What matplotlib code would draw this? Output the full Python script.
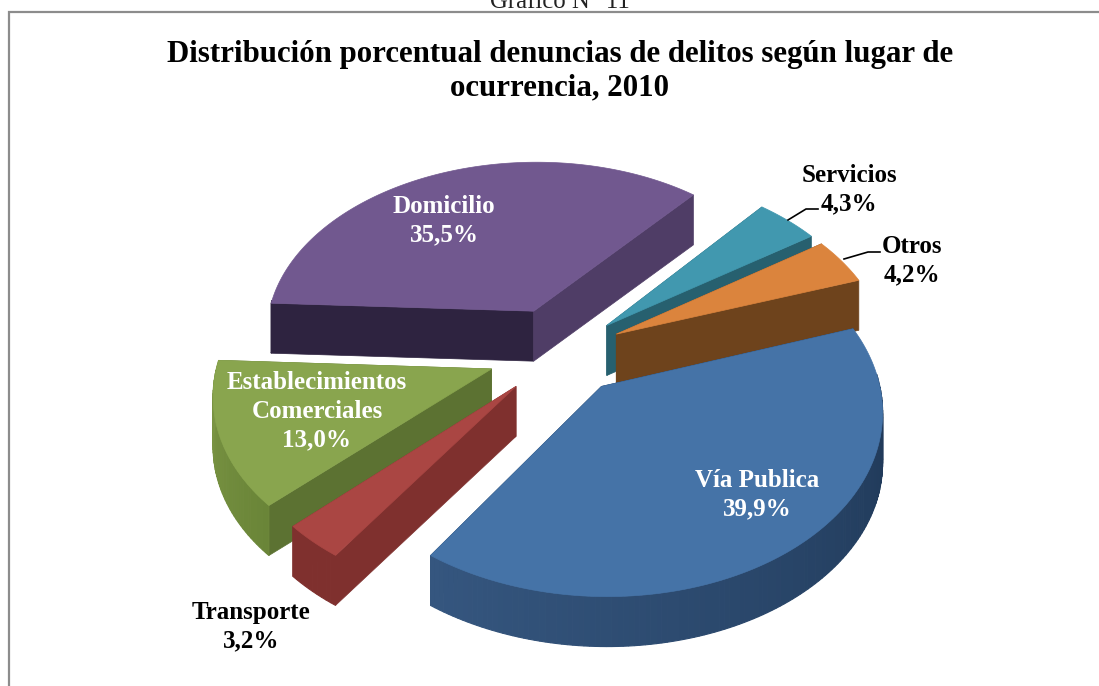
import numpy as np
import matplotlib
matplotlib.use("Agg")
import matplotlib.pyplot as plt
from matplotlib.patches import Polygon
from matplotlib.colors import to_rgb

categories = ["Vía Publica", "Transporte", "Establecimientos\nComerciales", "Domicilio", "Servicios", "Otros"]
values = [39.9, 3.2, 13.0, 35.5, 4.3, 4.2]
value_labels = ["39,9%", "3,2%", "13,0%", "35,5%", "4,3%", "4,2%"]
explode = [0.24, 0.25, 0.27, 0.26, 0.23, 0.23]
top_colors = ["#4573a7", "#aa4643", "#89a54e", "#71588f", "#4198af", "#db843d"]
rim_start = ["#35567f", "#7f302e", "#7d9745", "#2e2340", "#27606f", "#6e431c"]
rim_end = ["#1b3350", "#7f302e", "#6a8538", "#2e2340", "#27606f", "#6e431c"]
cut_start = ["#1b3350", "#7f302e", "#5c7232", "#2e2340", "#27606f", "#6e431c"]
cut_end = ["#1b3350", "#7f302e", "#5c7232", "#4f3d66", "#27606f", "#6e431c"]
label_colors = ["white", "black", "white", "white", "black", "black"]
label_xy = [(757, 495), (251, 627), (317, 411), (444, 221), (849, 190), (912, 261)]
draw_order = [3, 4, 5, 2, 1, 0]

START = 19.0
CX, CY = 561.0, 352.0
RX, RY = 272.0, 176.0
PERSP = 0.12
DEPTH = 50.0


def project(u, v, z=0.0):
    s = 1.0 / (1.0 + PERSP * v)
    return CX + RX * u * s, CY - RY * v * s + DEPTH * z


def mix(a, b, t):
    a, b = np.array(to_rgb(a)), np.array(to_rgb(b))
    return tuple(a + (b - a) * t)


fig = plt.figure(figsize=(10.99, 6.86), dpi=100)
ax = fig.add_axes([0, 0, 1, 1])
ax.set_xlim(0, 1099)
ax.set_ylim(686, 0)
ax.axis("off")

ax.plot([9, 9, 1099], [686, 12, 12], color="#8c8c8c", lw=1.6, solid_joinstyle="miter")

fr = np.array(values) / np.sum(values)
ends = START - 360 * np.cumsum(fr)
starts = np.r_[START, ends[:-1]]

for i in draw_order:
    a0, a1 = starts[i], ends[i]
    mid = np.radians((a0 + a1) / 2)
    ou, ov = explode[i] * np.cos(mid), explode[i] * np.sin(mid)
    ts = np.radians(np.linspace(a0, a1, max(6, int(abs(a1 - a0)))))
    u = ou + np.cos(ts)
    v = ov + np.sin(ts)
    n = len(ts)
    # cut faces from the apex to each rim end
    for k, col in ((0, cut_start[i]), (n - 1, cut_end[i])):
        p = [project(ou, ov), project(u[k], v[k]), project(u[k], v[k], 1), project(ou, ov, 1)]
        ax.add_patch(Polygon(p, closed=True, fc=col, ec=col, lw=0.5))
    # rim strips with shading along the arc, only where they face the viewer
    for k in range(n - 1):
        if np.sin(ts[k]) > 0.05 and np.sin(ts[k + 1]) > 0.05:
            continue
        c = mix(rim_end[i], rim_start[i], k / max(n - 2, 1))
        p = [project(u[k], v[k]), project(u[k + 1], v[k + 1]),
             project(u[k + 1], v[k + 1], 1), project(u[k], v[k], 1)]
        ax.add_patch(Polygon(p, closed=True, fc=c, ec=c, lw=0.8))
    # top surface
    pts = [project(ou, ov)] + [project(a, b) for a, b in zip(u, v)]
    ax.add_patch(Polygon(pts, closed=True, fc=top_colors[i], ec=top_colors[i], lw=0.5))

serif = ["Liberation Serif", "DejaVu Serif"]
ax.text(560, 8, "Gráfico N° 11", ha="center", va="baseline", fontsize=17.8, family=serif, color="#222222")
ax.text(560, 71, "Distribución porcentual denuncias de delitos según lugar de\nocurrencia, 2010",
        ha="center", va="center", fontsize=22.2, fontweight="bold", family=serif, color="black", linespacing=1.2)

for i, name in enumerate(categories):
    ax.text(label_xy[i][0], label_xy[i][1], name + "\n" + value_labels[i], ha="center", va="center",
            fontsize=18, fontweight="bold", family=serif, color=label_colors[i], linespacing=1.3)

ax.plot([788, 806, 818], [220, 209, 209], color="black", lw=1.2)
ax.plot([844, 868, 880], [259, 252, 252], color="black", lw=1.2)

fig.savefig("out.png", dpi=100)
